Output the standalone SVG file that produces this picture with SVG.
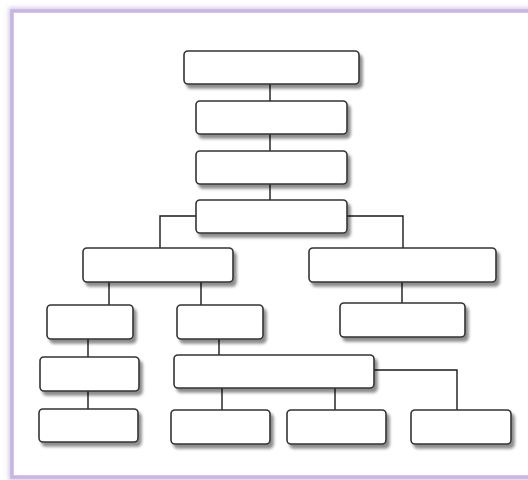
<svg xmlns="http://www.w3.org/2000/svg" width="528" height="480" viewBox="0 0 528 480">
<defs>
<filter id="glow" x="-5%" y="-5%" width="110%" height="110%">
<feGaussianBlur stdDeviation="2"/>
</filter>
<filter id="sh" x="-10%" y="-20%" width="130%" height="160%">
<feGaussianBlur in="SourceAlpha" stdDeviation="1.8"/>
<feOffset dx="3" dy="4" result="b"/>
<feComponentTransfer><feFuncA type="linear" slope="0.45"/></feComponentTransfer>
<feMerge><feMergeNode/><feMergeNode in="SourceGraphic"/></feMerge>
</filter>
<style>
.n{fill:#fff;stroke:#333;stroke-width:1.6;filter:url(#sh)}
.c{fill:none;stroke:#1a1a1a;stroke-width:1.4}
</style>
</defs>
<rect x="0" y="0" width="528" height="480" fill="#fff"/>
<g id="frame">
<rect x="12" y="11" width="530" height="466" fill="none" stroke="#d8c9ea" stroke-width="7" filter="url(#glow)"/>
<rect x="12" y="11" width="530" height="466" fill="#fff" stroke="#c8b5e0" stroke-width="3.5"/>
</g>
<g id="connectors">
<path class="c" d="M270,84V101M270,134V151M270,184V200"/>
<path class="c" d="M196,216H160V248M347,216H403V248"/>
<path class="c" d="M109,282V305M201,282V305M402,282V303"/>
<path class="c" d="M88,339V357M88,391V409M219,339V355"/>
<path class="c" d="M222,388V410M335,388V410M374,370H457V410"/>
</g>
<g id="n1"><rect class="n" x="184" y="51" width="175" height="33" rx="4"/></g>
<g id="n2"><rect class="n" x="196" y="101" width="151" height="33" rx="4"/></g>
<g id="n3"><rect class="n" x="196" y="151" width="151" height="33" rx="4"/></g>
<g id="n4"><rect class="n" x="196" y="200" width="151" height="33" rx="4"/></g>
<g id="n5"><rect class="n" x="83" y="248" width="150" height="34" rx="4"/></g>
<g id="n6"><rect class="n" x="309" y="248" width="187" height="34" rx="4"/></g>
<g id="n7"><rect class="n" x="47" y="305" width="86" height="34" rx="4"/></g>
<g id="n8"><rect class="n" x="177" y="305" width="86" height="34" rx="4"/></g>
<g id="n9"><rect class="n" x="340" y="303" width="125" height="34" rx="4"/></g>
<g id="n10"><rect class="n" x="40" y="357" width="99" height="34" rx="4"/></g>
<g id="n11"><rect class="n" x="174" y="355" width="200" height="33" rx="4"/></g>
<g id="n12"><rect class="n" x="39" y="409" width="99" height="33" rx="4"/></g>
<g id="n13"><rect class="n" x="171" y="410" width="99" height="34" rx="4"/></g>
<g id="n14"><rect class="n" x="287" y="410" width="99" height="34" rx="4"/></g>
<g id="n15"><rect class="n" x="411" y="410" width="100" height="34" rx="4"/></g>
</svg>
